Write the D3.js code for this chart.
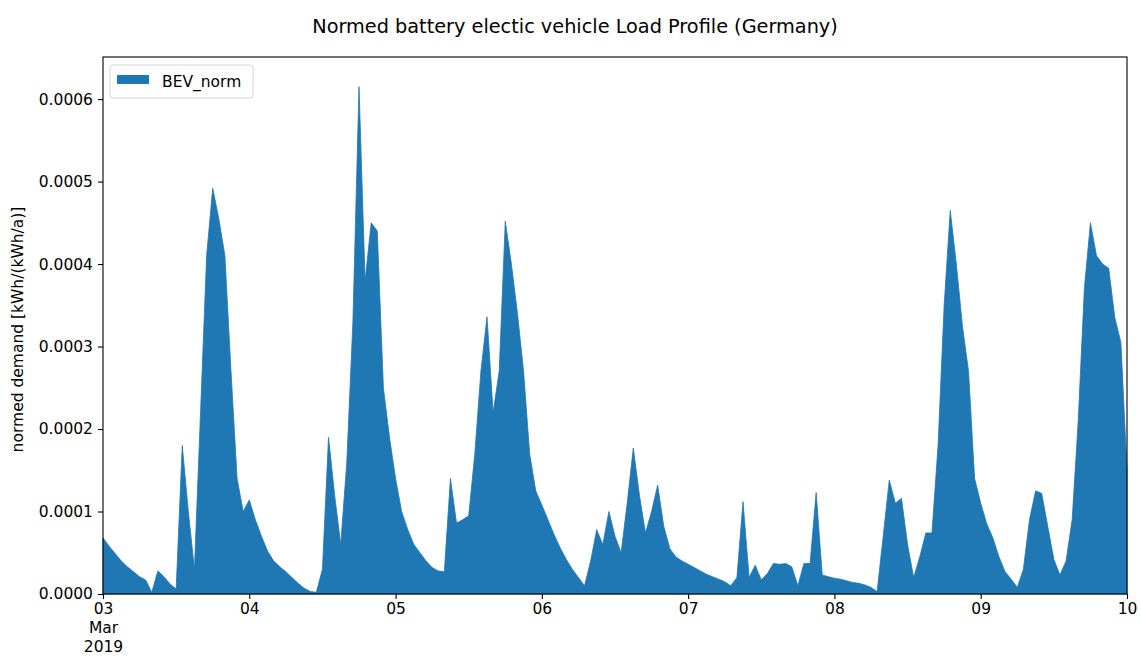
<!DOCTYPE html>
<html>
<head>
<meta charset="utf-8">
<script src="https://cdn.jsdelivr.net/npm/d3@7"></script>
<style>
  html, body { margin: 0; padding: 0; background: #fff; }
  svg { display: block; }
  text { font-family: "DejaVu Sans", sans-serif; fill: #000; }
</style>
</head>
<body>
<svg id="chart" width="1141" height="657"></svg>
<script>
// ---- Data (hourly, 2019-03-03 00:00 .. 2019-03-10 00:00) ----
const startDate = "2019-03-03T00:00:00Z";
const seriesName = "BEV_norm";
const day1 = [0.000068,0.000058,0.000049,0.000040,0.000033,0.000027,0.000021,0.000017,0.000002,0.000028,0.000021,0.000012,
              0.000006,0.000180,0.000100,0.000030,0.000220,0.000410,0.000492,0.000455,0.000410,0.000270,0.000140,0.000100];
const day2 = [0.000114,0.000090,0.000070,0.000052,0.000040,0.000033,0.000027,0.000020,0.000013,0.000007,0.000003,0.000002,
              0.000030,0.000190,0.000120,0.000060,0.000160,0.000330,0.000615,0.000380,0.000450,0.000440,0.000250,0.000190];
const day3 = [0.000140,0.000100,0.000078,0.000060,0.000050,0.000040,0.000032,0.000028,0.000027,0.000140,0.000086,0.000090,
              0.000095,0.000170,0.000270,0.000336,0.000220,0.000270,0.000452,0.000400,0.000340,0.000270,0.000170,0.000125];
const day4 = [0.000108,0.000090,0.000072,0.000056,0.000042,0.000030,0.000020,0.000010,0.000040,0.000078,0.000060,0.000100,
              0.000070,0.000050,0.000110,0.000177,0.000120,0.000074,0.000100,0.000132,0.000082,0.000055,0.000045,0.000040];
const day5 = [0.000036,0.000032,0.000028,0.000024,0.000021,0.000018,0.000015,0.000010,0.000020,0.000112,0.000020,0.000035,
              0.000017,0.000025,0.000037,0.000036,0.000037,0.000033,0.000010,0.000037,0.000037,0.000123,0.000023,0.000021];
const day6 = [0.000019,0.000018,0.000016,0.000014,0.000013,0.000011,0.000008,0.000003,0.000070,0.000138,0.000110,0.000116,
              0.000060,0.000020,0.000045,0.000074,0.000074,0.000180,0.000350,0.000465,0.000400,0.000325,0.000270,0.000140];
const day7 = [0.000110,0.000085,0.000068,0.000045,0.000027,0.000018,0.000008,0.000030,0.000090,0.000125,0.000122,0.000082,
              0.000042,0.000023,0.000040,0.000090,0.000210,0.000370,0.000450,0.000410,0.000400,0.000395,0.000335,0.000305];
const lastValue = [0.000150];
const values = [].concat(day1, day2, day3, day4, day5, day6, day7, lastValue);
const yTickValues = [0, 0.0001, 0.0002, 0.0003, 0.0004, 0.0005, 0.0006];
const titleText = "Normed battery electic vehicle Load Profile (Germany)";
const yLabel = "normed demand [kWh/(kWh/a)]";

// ---- Build data ----
const t0 = new Date(startDate);
const data = values.map((v, i) => ({ t: new Date(t0.getTime() + i * 3600 * 1000), v }));

// ---- Layout ----
const svg = d3.select("#chart");
const W = 1141, H = 657;
const margin = { left: 103, right: W - 1127, top: 57, bottom: H - 594 };
const x = d3.scaleUtc()
  .domain(d3.extent(data, d => d.t))
  .range([margin.left, W - margin.right]);
const y = d3.scaleLinear()
  .domain([0, 0.000651])
  .range([H - margin.bottom, margin.top]);

const color = "#1f77b4";

// area
const area = d3.area()
  .x(d => x(d.t))
  .y0(y(0))
  .y1(d => y(d.v));
svg.append("path")
  .datum(data)
  .attr("d", area)
  .attr("fill", color)
  .attr("stroke", color)
  .attr("stroke-width", 0.8)
  .attr("stroke-linejoin", "miter");

// frame
svg.append("rect")
  .attr("x", margin.left).attr("y", margin.top)
  .attr("width", W - margin.right - margin.left)
  .attr("height", H - margin.bottom - margin.top)
  .attr("fill", "none").attr("stroke", "#000").attr("stroke-width", 1.1);

// y axis
const yAxis = d3.axisLeft(y).tickValues(yTickValues).tickFormat(d3.format(".4f")).tickSize(5).tickPadding(5);
const gy = svg.append("g").attr("transform", `translate(${margin.left},0)`).call(yAxis);
gy.select(".domain").remove();
gy.selectAll("text").style("font-size", "15.5px").attr("font-family", "DejaVu Sans");
gy.selectAll("line").attr("stroke-width", 1.1);

// x axis
const dayTicks = d3.utcDay.range(x.domain()[0], new Date(x.domain()[1].getTime() + 1));
const xAxis = d3.axisBottom(x).tickValues(dayTicks).tickFormat(d3.utcFormat("%d")).tickSize(5).tickPadding(4);
const gx = svg.append("g").attr("transform", `translate(0,${H - margin.bottom})`).call(xAxis);
gx.select(".domain").remove();
gx.selectAll("line").attr("stroke-width", 1.1);
gx.selectAll("text").style("font-size", "15.5px").attr("font-family", "DejaVu Sans");
// first tick: add month and year lines
gx.selectAll(".tick").filter((d, i) => i === 0).select("text")
  .each(function(d) {
    const t = d3.select(this);
    t.append("tspan").attr("x", 0).attr("dy", "1.24em").text(d3.utcFormat("%b")(d));
    t.append("tspan").attr("x", 0).attr("dy", "1.24em").text(d3.utcFormat("%Y")(d));
  });

// y label
svg.append("text")
  .attr("transform", `translate(23,${(margin.top + H - margin.bottom) / 2 + 4}) rotate(-90)`)
  .attr("text-anchor", "middle")
  .style("font-size", "15.5px")
  .text(yLabel);

// title (figure-centred suptitle)
svg.append("text")
  .attr("x", 575)
  .attr("y", 33)
  .attr("text-anchor", "middle")
  .style("font-size", "19.3px")
  .text(titleText);

// legend
const lg = svg.append("g").attr("transform", "translate(110,65)");
lg.append("rect").attr("width", 143).attr("height", 33).attr("rx", 3)
  .attr("fill", "#fff").attr("fill-opacity", 0.8).attr("stroke", "#d6d6d6").attr("stroke-width", 1);
lg.append("rect").attr("x", 7).attr("y", 10).attr("width", 32).attr("height", 9).attr("fill", color);
lg.append("text").attr("x", 52).attr("y", 22).style("font-size", "15.5px").text(seriesName);
</script>
</body>
</html>
